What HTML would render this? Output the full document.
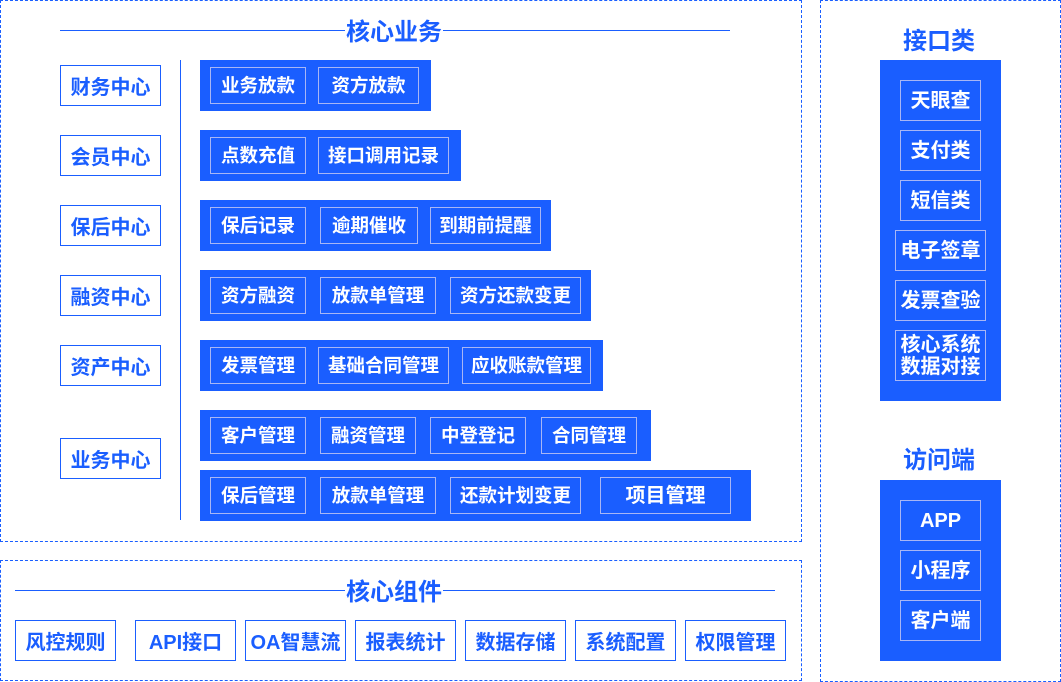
<!DOCTYPE html>
<html><head><meta charset="utf-8"><style>
*{margin:0;padding:0;box-sizing:border-box}
body{width:1061px;height:682px;background:#fff;position:relative;overflow:hidden;font-family:"Liberation Sans","Noto Sans CJK SC",sans-serif;font-weight:bold}
div{position:absolute}
.d{border:1px dashed #1a5eff}
.t{color:#1a5eff;font-size:24px;background:#fff;padding:0 1px;line-height:28px}
.ln{height:1px;background:#1a5eff}
.l{border:1px solid #1a5eff;color:#1a5eff;font-size:20px;display:flex;align-items:center;justify-content:center;background:#fff;white-space:nowrap}
.b{background:#1a5eff}
.i{border:1px solid #a8b6f5;color:#fff;font-size:18.5px;display:flex;align-items:center;justify-content:center;text-align:center;line-height:22px;white-space:nowrap}
.r{font-size:20px}
</style></head><body>
<div class="d" style="left:0;top:0;width:802px;height:542px"></div>
<div class="d" style="left:0;top:560px;width:802px;height:121px"></div>
<div class="d" style="left:820px;top:0;width:241px;height:682px"></div>

<div class="ln" style="left:60px;top:30px;width:670px"></div>
<div class="t" style="left:345px;top:19px">核心业务</div>
<div style="left:180px;top:60px;width:1px;height:460px;background:#1a5eff"></div>

<div class="l" style="left:60px;top:65px;width:101px;height:41px">财务中心</div>
<div class="l" style="left:60px;top:135px;width:101px;height:41px">会员中心</div>
<div class="l" style="left:60px;top:205px;width:101px;height:41px">保后中心</div>
<div class="l" style="left:60px;top:275px;width:101px;height:41px">融资中心</div>
<div class="l" style="left:60px;top:345px;width:101px;height:41px">资产中心</div>
<div class="l" style="left:60px;top:438px;width:101px;height:41px">业务中心</div>

<div class="b" style="left:200px;top:60px;width:231px;height:51px"></div>
<div class="i" style="left:210px;top:67px;width:96px;height:37px">业务放款</div>
<div class="i" style="left:318px;top:67px;width:101px;height:37px">资方放款</div>

<div class="b" style="left:200px;top:130px;width:261px;height:51px"></div>
<div class="i" style="left:210px;top:137px;width:96px;height:37px">点数充值</div>
<div class="i" style="left:318px;top:137px;width:131px;height:37px">接口调用记录</div>

<div class="b" style="left:200px;top:200px;width:351px;height:51px"></div>
<div class="i" style="left:210px;top:207px;width:96px;height:37px">保后记录</div>
<div class="i" style="left:320px;top:207px;width:98px;height:37px">逾期催收</div>
<div class="i" style="left:430px;top:207px;width:111px;height:37px">到期前提醒</div>

<div class="b" style="left:200px;top:270px;width:391px;height:51px"></div>
<div class="i" style="left:210px;top:277px;width:96px;height:37px">资方融资</div>
<div class="i" style="left:320px;top:277px;width:116px;height:37px">放款单管理</div>
<div class="i" style="left:450px;top:277px;width:131px;height:37px">资方还款变更</div>

<div class="b" style="left:200px;top:340px;width:403px;height:51px"></div>
<div class="i" style="left:210px;top:347px;width:96px;height:37px">发票管理</div>
<div class="i" style="left:318px;top:347px;width:131px;height:37px">基础合同管理</div>
<div class="i" style="left:462px;top:347px;width:129px;height:37px">应收账款管理</div>

<div class="b" style="left:200px;top:410px;width:451px;height:51px"></div>
<div class="i" style="left:210px;top:417px;width:96px;height:37px">客户管理</div>
<div class="i" style="left:320px;top:417px;width:96px;height:37px">融资管理</div>
<div class="i" style="left:430px;top:417px;width:96px;height:37px">中登登记</div>
<div class="i" style="left:541px;top:417px;width:96px;height:37px">合同管理</div>

<div class="b" style="left:200px;top:470px;width:551px;height:51px"></div>
<div class="i" style="left:210px;top:477px;width:96px;height:37px">保后管理</div>
<div class="i" style="left:320px;top:477px;width:116px;height:37px">放款单管理</div>
<div class="i" style="left:450px;top:477px;width:131px;height:37px">还款计划变更</div>
<div class="i" style="left:600px;top:477px;width:131px;height:37px;font-size:20px">项目管理</div>

<div class="ln" style="left:15px;top:590px;width:760px"></div>
<div class="t" style="left:345px;top:579px">核心组件</div>
<div class="l" style="left:15px;top:620px;width:101px;height:41px">风控规则</div>
<div class="l" style="left:135px;top:620px;width:101px;height:41px">API接口</div>
<div class="l" style="left:245px;top:620px;width:101px;height:41px">OA智慧流</div>
<div class="l" style="left:355px;top:620px;width:101px;height:41px">报表统计</div>
<div class="l" style="left:465px;top:620px;width:101px;height:41px">数据存储</div>
<div class="l" style="left:575px;top:620px;width:101px;height:41px">系统配置</div>
<div class="l" style="left:685px;top:620px;width:101px;height:41px">权限管理</div>

<div class="t" style="left:902px;top:28px">接口类</div>
<div class="b" style="left:880px;top:60px;width:121px;height:341px"></div>
<div class="i r" style="left:900px;top:80px;width:81px;height:41px">天眼查</div>
<div class="i r" style="left:900px;top:130px;width:81px;height:41px">支付类</div>
<div class="i r" style="left:900px;top:180px;width:81px;height:41px">短信类</div>
<div class="i r" style="left:895px;top:230px;width:91px;height:41px">电子签章</div>
<div class="i r" style="left:895px;top:280px;width:91px;height:41px">发票查验</div>
<div class="i r" style="left:895px;top:330px;width:91px;height:51px">核心系统<br>数据对接</div>

<div class="t" style="left:902px;top:447px">访问端</div>
<div class="b" style="left:880px;top:480px;width:121px;height:181px"></div>
<div class="i r" style="left:900px;top:500px;width:81px;height:41px">APP</div>
<div class="i r" style="left:900px;top:550px;width:81px;height:41px">小程序</div>
<div class="i r" style="left:900px;top:600px;width:81px;height:41px">客户端</div>
</body></html>
